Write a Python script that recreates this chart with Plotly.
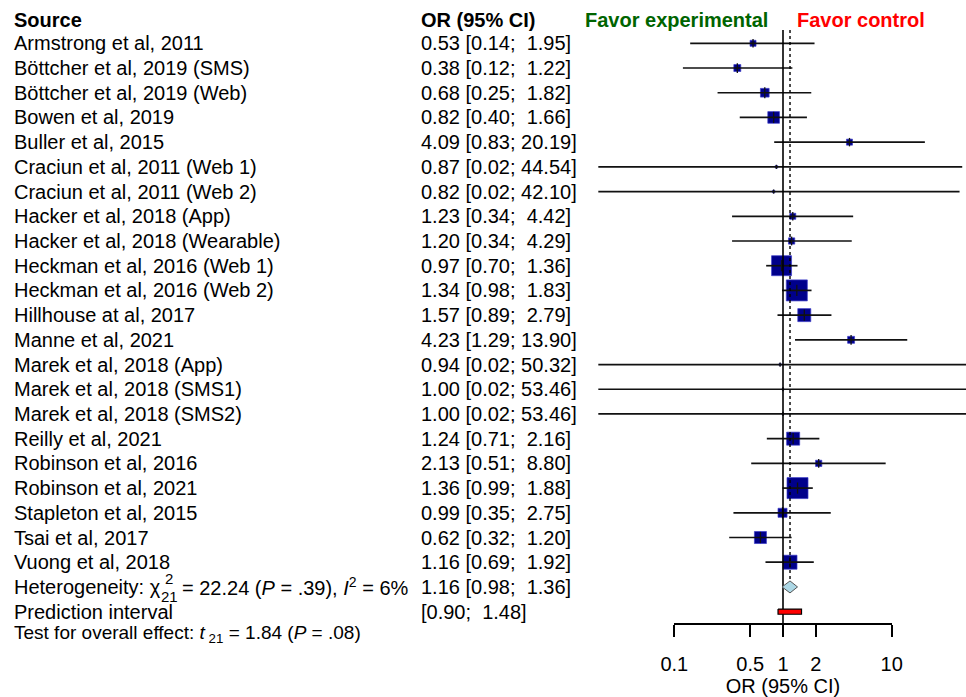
import math
import plotly.graph_objects as go

# ---- study-level data -------------------------------------------------------
studies = [
    "Armstrong et al, 2011",
    "Böttcher et al, 2019 (SMS)",
    "Böttcher et al, 2019 (Web)",
    "Bowen et al, 2019",
    "Buller et al, 2015",
    "Craciun et al, 2011 (Web 1)",
    "Craciun et al, 2011 (Web 2)",
    "Hacker et al, 2018 (App)",
    "Hacker et al, 2018 (Wearable)",
    "Heckman et al, 2016 (Web 1)",
    "Heckman et al, 2016 (Web 2)",
    "Hillhouse at al, 2017",
    "Manne et al, 2021",
    "Marek et al, 2018 (App)",
    "Marek et al, 2018 (SMS1)",
    "Marek et al, 2018 (SMS2)",
    "Reilly et al, 2021",
    "Robinson et al, 2016",
    "Robinson et al, 2021",
    "Stapleton et al, 2015",
    "Tsai et al, 2017",
    "Vuong et al, 2018",
]
or_est = [0.53, 0.38, 0.68, 0.82, 4.09, 0.87, 0.82, 1.23, 1.20, 0.97, 1.34,
          1.57, 4.23, 0.94, 1.00, 1.00, 1.24, 2.13, 1.36, 0.99, 0.62, 1.16]
ci_low = [0.14, 0.12, 0.25, 0.40, 0.83, 0.02, 0.02, 0.34, 0.34, 0.70, 0.98,
          0.89, 1.29, 0.02, 0.02, 0.02, 0.71, 0.51, 0.99, 0.35, 0.32, 0.69]
ci_high = [1.95, 1.22, 1.82, 1.66, 20.19, 44.54, 42.10, 4.42, 4.29, 1.36, 1.83,
           2.79, 13.90, 50.32, 53.46, 53.46, 2.16, 8.80, 1.88, 2.75, 1.20, 1.92]
weights = [1.2, 1.6, 2.5, 4.5, 1.2, 0.2, 0.2, 1.2, 1.3, 13.2, 14.6,
           5.6, 1.6, 0.15, 0.1, 0.1, 5.6, 1.3, 14.6, 2.7, 4.8, 6.5]

# ---- pooled results ---------------------------------------------------------
pooled_or, pooled_low, pooled_high = 1.16, 0.98, 1.36
pi_low, pi_high = 0.90, 1.48
axis_ticks = [0.1, 0.5, 1, 2, 10]
tick_labels = ["0.1", "0.5", "1", "2", "10"]

# ---- page geometry ----------------------------------------------------------
W, H = 966, 697
X_ONE = 783.0      # pixel column of OR = 1
DECADE = 108.7     # pixels per factor of ten
ROW0, ROW_H = 18.6, 24.71
FONT = "Liberation Sans, Arial, sans-serif"
FS = 20
NAVY = "#00008B"


def row_of(px):
    return (px - ROW0) / ROW_H


def px_x(px):
    return px / W


n = len(studies)
rows = list(range(1, n + 1))
het_row, pi_row = n + 1, n + 2

fig = go.Figure()

# weighted squares (area proportional to weight)
sides = [5.5 * math.sqrt(w) for w in weights]
fig.add_trace(go.Scatter(
    x=or_est, y=rows, mode="markers",
    marker=dict(symbol="square", size=sides, color=NAVY, opacity=1,
                line=dict(width=0.7, color="#3c3cc8")),
    hoverinfo="skip", showlegend=False))

# confidence intervals
cx, cy = [], []
for lo, hi, r in zip(ci_low, ci_high, rows):
    cx += [lo, hi, None]
    cy += [r, r, None]
fig.add_trace(go.Scatter(x=cx, y=cy, mode="lines",
                         line=dict(color="#111111", width=1.7),
                         hoverinfo="skip", showlegend=False))
fig.add_trace(go.Scatter(
    x=or_est, y=rows, mode="markers",
    marker=dict(symbol="line-ns", size=[min(8, max(3, s)) for s in sides], opacity=1,
                line=dict(width=1.3, color="#111111")),
    hoverinfo="skip", showlegend=False))

# line of no effect and pooled estimate
fig.add_trace(go.Scatter(x=[1, 1], y=[row_of(30), row_of(624.3)], mode="lines",
                         line=dict(color="black", width=1.6),
                         hoverinfo="skip", showlegend=False))
fig.add_trace(go.Scatter(x=[pooled_or, pooled_or], y=[row_of(30), row_of(580.5)],
                         mode="lines", line=dict(color="black", width=1.4, dash="dot"),
                         hoverinfo="skip", showlegend=False))

# pooled diamond
dh = 6.0 / ROW_H
fig.add_trace(go.Scatter(
    x=[pooled_low, pooled_or, pooled_high, pooled_or, pooled_low],
    y=[het_row, het_row - dh, het_row, het_row + dh, het_row],
    mode="lines", fill="toself", fillcolor="#ADD8E6",
    line=dict(color="#555555", width=1), hoverinfo="skip", showlegend=False))

# prediction interval bar
ph = 2.6 / ROW_H
fig.add_trace(go.Scatter(
    x=[pi_low, pi_high, pi_high, pi_low, pi_low],
    y=[pi_row - ph, pi_row - ph, pi_row + ph, pi_row + ph, pi_row - ph],
    mode="lines", fill="toself", fillcolor="#FF0000",
    line=dict(color="black", width=1.2), hoverinfo="skip", showlegend=False))

# carrier trace for the scale axis
fig.add_trace(go.Scatter(x=[1], y=[pi_row], xaxis="x2", yaxis="y", mode="markers",
                         marker=dict(opacity=0), hoverinfo="skip", showlegend=False))

# ---- text columns -----------------------------------------------------------
ann = []


def text(px, row, s, size=FS, color="black", bold=False, anchor="left"):
    ann.append(dict(x=px_x(px), xref="paper", y=row, yref="y", text=(f"<b>{s}</b>" if bold else s),
                    showarrow=False, xanchor=anchor, yanchor="middle",
                    font=dict(family=FONT, size=size, color=color)))


def ci_text(est, lo, hi):
    hi_s = f"{hi:5.2f}".replace(" ", "\u00a0")
    return f"{est:.2f} [{lo:.2f}; {hi_s}]"


hdr = row_of(20)
text(12, hdr, "Source", bold=True)
text(419, hdr, "OR (95% CI)", bold=True)
text(583, hdr, "Favor experimental", color="#006400", bold=True)
text(795, hdr, "Favor control", color="#FF0000", bold=True)

for s, e, lo, hi, r in zip(studies, or_est, ci_low, ci_high, rows):
    text(12, r, s)
    text(419, r, ci_text(e, lo, hi))

text(12, het_row, "Heterogeneity: χ")
text(163, het_row - 0.36, "2", size=15)
text(159, het_row + 0.40, "21", size=15)
text(180, het_row, "= 22.24 (<i>P</i> = .39), <i>I</i><sup>2</sup> = 6%")
text(419, het_row, ci_text(pooled_or, pooled_low, pooled_high))

text(12, pi_row, "Prediction interval")
pi_hi_s = f"{pi_high:5.2f}".replace(" ", "\u00a0")
text(419, pi_row, f"[{pi_low:.2f}; {pi_hi_s}]")

text(12, row_of(634), "Test for overall effect: <i>t</i>\u2009<sub>21</sub> = 1.84 (<i>P</i> = .08)", size=19)

fig.update_layout(
    width=W, height=H,
    margin=dict(l=0, r=0, t=0, b=0, autoexpand=False),
    paper_bgcolor="white", plot_bgcolor="rgba(0,0,0,0)",
    annotations=ann,
    xaxis=dict(type="log", range=[(0 - X_ONE) / DECADE, (W - X_ONE) / DECADE],
               domain=[0, 1], visible=False, fixedrange=True),
    xaxis2=dict(type="log", range=[-1, 1],
                domain=[(X_ONE - DECADE) / W, (X_ONE + DECADE) / W],
                anchor="free", position=1 - 624.3 / H, side="bottom",
                showline=True, linecolor="black", linewidth=1.6,
                ticks="outside", ticklen=12, tickwidth=1.6, tickcolor="black",
                tickvals=axis_ticks, ticktext=tick_labels,
                tickfont=dict(family=FONT, size=FS, color="black"),
                ticklabelstandoff=10, automargin=False,
                title=dict(text="OR (95% CI)", font=dict(family=FONT, size=FS, color="black"),
                           standoff=0),
                showgrid=False, zeroline=False, fixedrange=True),
    yaxis=dict(range=[row_of(H), row_of(0)], domain=[0, 1], visible=False, fixedrange=True),
    showlegend=False,
)

fig.write_html("out.html")
